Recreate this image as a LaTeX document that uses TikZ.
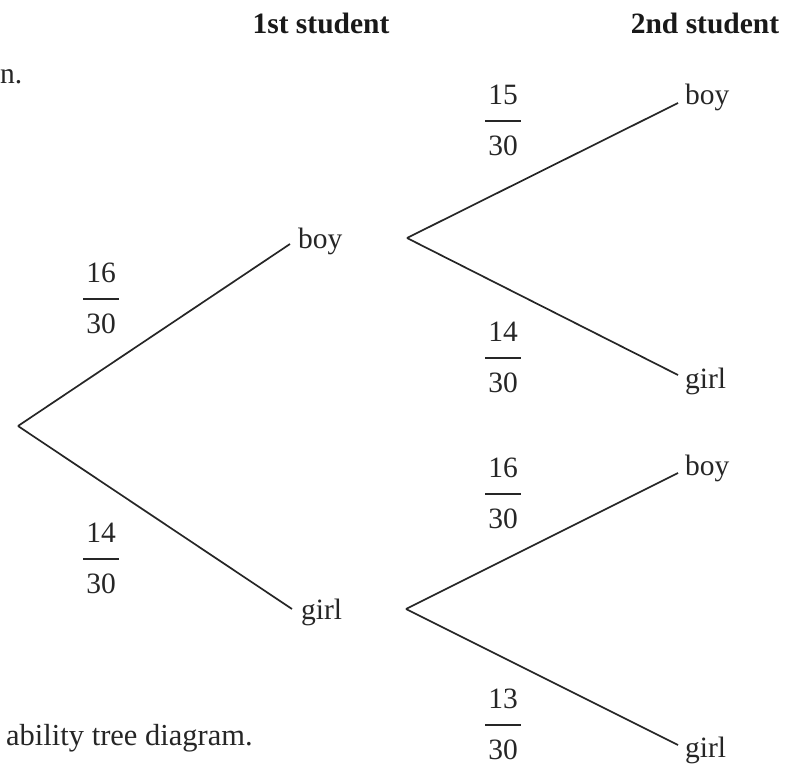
\documentclass[tikz,border=0pt]{standalone}
\usepackage{fontspec}
\setmainfont{Liberation Serif}
\usetikzlibrary{calc}
\usetikzlibrary{positioning}

\setlength{\arrayrulewidth}{1.2pt}
\newcommand{\probfrac}[2]{\begin{tabular}{@{\hspace{3pt}}c@{\hspace{3pt}}}#1\\[6pt]\hline\rule{0pt}{34pt}#2\end{tabular}}

\begin{document}
\begin{tikzpicture}[x=1pt, y=-1pt,
    branch/.style={line width=1.7pt, draw=black!85},
    outcome/.style={anchor=base west, inner sep=0pt, text=black!85, font=\fontsize{29.5}{34}\selectfont},
    prob/.style={inner sep=0pt, text=black!85, font=\fontsize{29.5}{34}\selectfont},
    heading/.style={anchor=base, inner sep=0pt, text=black!90, font=\fontsize{29.5}{34}\selectfont\bfseries}]

    \useasboundingbox (0,0) rectangle (791,763);

    % column headings
    \node [heading] (head1) at (321,33) {1st student};
    \node [heading] (head2) at (705,33) {2nd student};

    % page text cut off at the left
    \node [outcome] (pagetop) at (0,83) {n.};
    \node [outcome, font=\fontsize{30.5}{34}\selectfont] (pagebot) at (6,745) {ability tree diagram.};

    % first student
    \coordinate (root) at (18,426);
    \coordinate (boyend) at (290,244);
    \coordinate (girlend) at (292,609);
    \coordinate (boyfork) at (407,238);
    \coordinate (girlfork) at (406,609);

    \node [outcome] (boy) at (298,248) {boy};
    \node [outcome] (girl) at (301,619) {girl};
    \draw [branch] (root) -- (boyend);
    \draw [branch] (root) -- (girlend);

    \node [prob] (pboy) at (101,301) {\probfrac{16}{30}};
    \node [prob] (pgirl) at (101,561) {\probfrac{14}{30}};

    % second student
    \foreach \fork/\i/\y/\word/\by/\num/\py in {boyfork/1/103/boy/104/15/123, boyfork/2/375/girl/388/14/360, girlfork/3/473/boy/475/16/496, girlfork/4/745/girl/757/13/727} {
        \coordinate (end\i) at (678,\y);
        \node [outcome] (leaf\i) at (685,\by) {\word};
        \draw [branch] (\fork) -- (end\i);
        \node [prob] (p\i) at (503,\py) {\probfrac{\num}{30}};
    }

\end{tikzpicture}
\end{document}
